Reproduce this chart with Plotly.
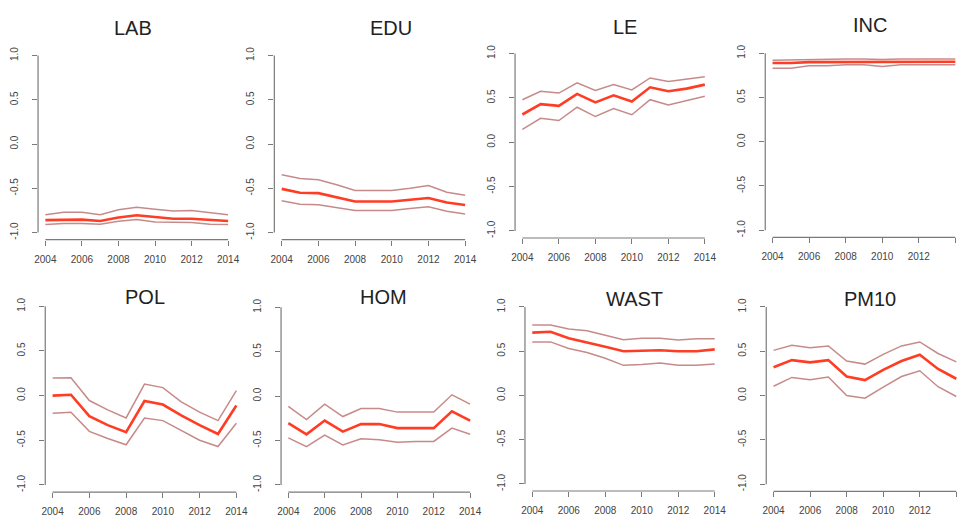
import plotly.graph_objects as go

# ---------------- data ----------------
years = [2004, 2005, 2006, 2007, 2008, 2009, 2010, 2011, 2012, 2013, 2014]
x_ticks = [2004, 2006, 2008, 2010, 2012, 2014]
x_tick_labels = ["2004", "2006", "2008", "2010", "2012", "2014"]
y_ticks = [-1.0, -0.5, 0.0, 0.5, 1.0]
y_tick_labels = ["-1.0", "-0.5", "0.0", "0.5", "1.0"]

names = ["LAB", "EDU", "LE", "INC", "POL", "HOM", "WAST", "PM10"]

lab_est = [-0.86, -0.855, -0.855, -0.87, -0.83, -0.805, -0.825, -0.845, -0.845, -0.855, -0.87]
lab_up = [-0.80, -0.772, -0.772, -0.80, -0.742, -0.716, -0.738, -0.757, -0.75, -0.776, -0.80]
lab_lo = [-0.91, -0.899, -0.899, -0.907, -0.873, -0.854, -0.88, -0.888, -0.888, -0.907, -0.91]

edu_est = [-0.507, -0.55, -0.555, -0.60, -0.65, -0.65, -0.65, -0.63, -0.61, -0.66, -0.69]
edu_up = [-0.346, -0.39, -0.405, -0.46, -0.525, -0.525, -0.525, -0.50, -0.47, -0.545, -0.58]
edu_lo = [-0.64, -0.68, -0.685, -0.72, -0.75, -0.75, -0.75, -0.73, -0.71, -0.76, -0.79]

le_est = [0.313, 0.43, 0.41, 0.545, 0.45, 0.53, 0.46, 0.62, 0.575, 0.605, 0.65]
le_up = [0.48, 0.575, 0.555, 0.67, 0.585, 0.65, 0.59, 0.725, 0.685, 0.71, 0.74]
le_lo = [0.145, 0.27, 0.245, 0.395, 0.29, 0.38, 0.31, 0.48, 0.42, 0.47, 0.52]

inc_est = [0.89, 0.89, 0.90, 0.90, 0.905, 0.905, 0.90, 0.905, 0.905, 0.905, 0.905]
inc_up = [0.92, 0.925, 0.93, 0.93, 0.935, 0.935, 0.93, 0.935, 0.935, 0.935, 0.935]
inc_lo = [0.83, 0.83, 0.86, 0.86, 0.87, 0.87, 0.85, 0.87, 0.87, 0.87, 0.87]

pol_est = [0.0, 0.01, -0.23, -0.33, -0.41, -0.06, -0.10, -0.22, -0.33, -0.43, -0.11]
pol_up = [0.196, 0.20, -0.055, -0.16, -0.25, 0.13, 0.09, -0.07, -0.185, -0.28, 0.055]
pol_lo = [-0.196, -0.185, -0.40, -0.48, -0.55, -0.25, -0.28, -0.39, -0.50, -0.57, -0.31]

hom_est = [-0.305, -0.43, -0.275, -0.40, -0.315, -0.315, -0.36, -0.36, -0.36, -0.17, -0.275]
hom_up = [-0.115, -0.265, -0.09, -0.23, -0.14, -0.14, -0.18, -0.18, -0.18, 0.015, -0.09]
hom_lo = [-0.47, -0.57, -0.44, -0.55, -0.48, -0.49, -0.52, -0.51, -0.51, -0.36, -0.43]

wast_est = [0.71, 0.72, 0.645, 0.60, 0.55, 0.50, 0.505, 0.51, 0.50, 0.50, 0.52]
wast_up = [0.795, 0.795, 0.75, 0.73, 0.68, 0.63, 0.645, 0.645, 0.625, 0.64, 0.64]
wast_lo = [0.605, 0.605, 0.53, 0.485, 0.42, 0.34, 0.35, 0.365, 0.34, 0.34, 0.355]

pm10_est = [0.32, 0.40, 0.375, 0.40, 0.215, 0.175, 0.29, 0.39, 0.46, 0.30, 0.19]
pm10_up = [0.51, 0.567, 0.54, 0.56, 0.39, 0.355, 0.465, 0.56, 0.605, 0.475, 0.38]
pm10_lo = [0.105, 0.205, 0.18, 0.21, 0.0, -0.03, 0.095, 0.215, 0.28, 0.10, -0.01]

estimates = [lab_est, edu_est, le_est, inc_est, pol_est, hom_est, wast_est, pm10_est]
uppers = [lab_up, edu_up, le_up, inc_up, pol_up, hom_up, wast_up, pm10_up]
lowers = [lab_lo, edu_lo, le_lo, inc_lo, pol_lo, hom_lo, wast_lo, pm10_lo]

# ---------------- layout (pixel geometry) ----------------
W, H = 963, 517
# pixel of first x tick, last x tick, y=1.0, y=-1.0
panel_px = [
    (41.7, 226.0, 54.0, 232.3),
    (280.0, 465.0, 54.0, 232.3),
    (522.7, 706.7, 52.0, 230.7),
    (775.0, 959.3, 51.7, 230.0),
    (49.0, 234.3, 306.7, 486.7),
    (286.7, 470.0, 307.7, 486.7),
    (532.7, 716.7, 307.3, 485.7),
    (776.0, 960.3, 307.3, 486.0),
]
title_px = [(130, 26), (390, 26), (626, 25), (873, 23),
            (142, 297.5), (382.5, 297.5), (636, 299), (873, 299)]

EST_COLOR = "#FF3D24"
BOUND_COLOR = "#C78A8A"
AXIS_COLOR = "#7a7a7a"
FONT = "Liberation Sans, Arial, sans-serif"

fig = go.Figure()
shapes = []
annotations = []
layout_axes = {}

xspan = x_ticks[-1] - x_ticks[0]
yspan = y_ticks[-1] - y_ticks[0]

for i, name in enumerate(names):
    k = i + 1
    xa = "x" if k == 1 else f"x{k}"
    ya = "y" if k == 1 else f"y{k}"
    for series, col, wid in ((uppers[i], BOUND_COLOR, 1.5),
                             (lowers[i], BOUND_COLOR, 1.5),
                             (estimates[i], EST_COLOR, 2.6)):
        fig.add_trace(go.Scatter(x=years, y=series, mode="lines",
                                 line=dict(color=col, width=wid),
                                 xaxis=xa, yaxis=ya, hoverinfo="skip",
                                 showlegend=False))

    x04, x14, y1, ym1 = panel_px[i]
    ppx = (x14 - x04) / xspan
    xr0 = x_ticks[0] - 0.04 * xspan
    xr1 = x_ticks[-1] + 0.04 * xspan
    left = x04 - (x_ticks[0] - xr0) * ppx
    right = x14 + (xr1 - x_ticks[-1]) * ppx
    if right > W:
        right = W
        xr1 = x_ticks[0] + (W - x04) / ppx
    ppy = (ym1 - y1) / yspan
    yr0 = y_ticks[0] - 0.04 * yspan
    yr1 = y_ticks[-1] + 0.04 * yspan
    top = y1 - (yr1 - y_ticks[-1]) * ppy
    bottom = ym1 + (y_ticks[0] - yr0) * ppy

    axis_common = dict(showline=False, showgrid=False, zeroline=False,
                       ticks="outside", ticklen=5, tickwidth=1,
                       tickcolor=AXIS_COLOR,
                       tickfont=dict(family=FONT, size=10, color="#444"),
                       fixedrange=True)
    layout_axes["xaxis" if k == 1 else f"xaxis{k}"] = dict(
        axis_common, domain=[left / W, right / W], range=[xr0, xr1],
        anchor=ya, tickmode="array", tickvals=x_ticks, ticktext=x_tick_labels,
        ticklabelstandoff=5)
    layout_axes["yaxis" if k == 1 else f"yaxis{k}"] = dict(
        axis_common, domain=[1 - bottom / H, 1 - top / H], range=[yr0, yr1],
        anchor=xa, tickmode="array", tickvals=y_ticks, ticktext=y_tick_labels,
        tickangle=-90, ticklabelstandoff=10)

    # R-style axis lines spanning only the tick range
    shapes.append(dict(type="line", xref=xa, yref=f"{ya} domain",
                       x0=x_ticks[0], x1=x_ticks[-1], y0=0, y1=0,
                       line=dict(color=AXIS_COLOR, width=1.2)))
    shapes.append(dict(type="line", xref=f"{xa} domain", yref=ya,
                       x0=0, x1=0, y0=y_ticks[0], y1=y_ticks[-1],
                       line=dict(color=AXIS_COLOR, width=1.2)))

    tx, ty = title_px[i]
    annotations.append(dict(text=name, x=tx / W, y=1 - ty / H, xref="paper",
                            yref="paper", xanchor="center", yanchor="middle",
                            showarrow=False,
                            font=dict(family=FONT, size=20, color="#222")))

fig.update_layout(width=W, height=H, margin=dict(l=0, r=0, t=0, b=0),
                  paper_bgcolor="white", plot_bgcolor="white",
                  showlegend=False, shapes=shapes, annotations=annotations,
                  font=dict(family=FONT), **layout_axes)

fig.write_html("out.html",
               config={"displayModeBar": False},
               post_script="document.body.style.margin='0';"
                           "document.body.style.overflow='hidden';")
